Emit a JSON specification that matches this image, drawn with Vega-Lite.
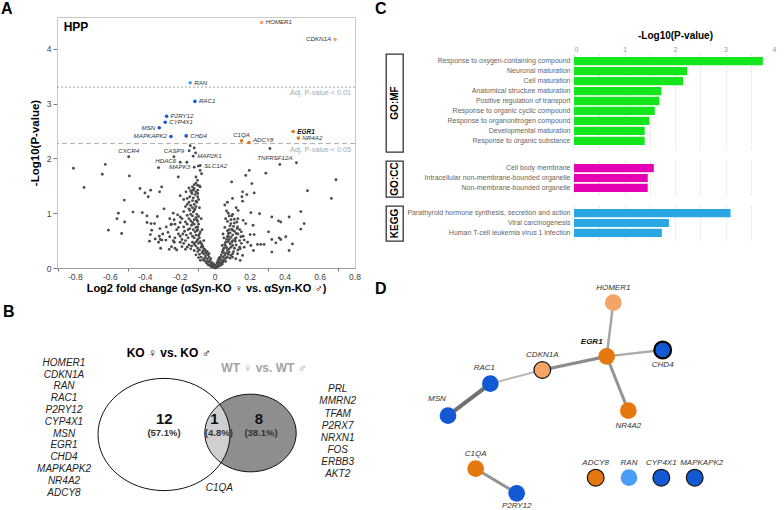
{
"$schema": "https://vega.github.io/schema/vega-lite/v6.json",
"padding": {"left": 0, "top": 0, "right": 0, "bottom": 0},
"spacing": 13,
"columns": 2,
"config": {
  "font": "Liberation Sans",
  "view": {"stroke": null},
  "locale": {"number": {"decimal": ".", "thousands": ",", "grouping": [3], "currency": ["$", ""], "minus": "-"}},
  "title": {"fontSize": 16, "fontWeight": "bold", "anchor": "start", "frame": "group", "baseline": "alphabetic", "color": "#000"}
},
"datasets": {
  "volcano": [
    {"fc":0.265,"lp":4.48,"gene":"HOMER1","cls":"up_p01"},
    {"fc":0.686,"lp":4.17,"gene":"CDKN1A","cls":"up_p01"},
    {"fc":-0.143,"lp":3.38,"gene":"RAN","cls":"down_p01"},
    {"fc":-0.116,"lp":3.04,"gene":"RAC1","cls":"down_p05"},
    {"fc":-0.278,"lp":2.77,"gene":"P2RY12","cls":"down_p05"},
    {"fc":-0.286,"lp":2.66,"gene":"CYP4X1","cls":"down_p05"},
    {"fc":-0.32,"lp":2.56,"gene":"MSN","cls":"down_p05"},
    {"fc":-0.253,"lp":2.40,"gene":"MAPKAPK2","cls":"down_p05"},
    {"fc":-0.166,"lp":2.41,"gene":"CHD4","cls":"down_p05"},
    {"fc":0.151,"lp":2.32,"gene":"C1QA","cls":"up_p05"},
    {"fc":0.193,"lp":2.29,"gene":"ADCY8","cls":"up_p05"},
    {"fc":0.446,"lp":2.49,"gene":"EGR1","cls":"up_p05"},
    {"fc":0.476,"lp":2.37,"gene":"NR4A2","cls":"up_p05"},
    {"fc":-0.495,"lp":2.03,"gene":"CXCR4","cls":"ns"},
    {"fc":-0.236,"lp":2.03,"gene":"CASP9","cls":"ns"},
    {"fc":-0.2,"lp":1.93,"gene":"HDAC6","cls":"ns"},
    {"fc":-0.126,"lp":2.04,"gene":"MAP2K1","cls":"ns"},
    {"fc":-0.12,"lp":1.84,"gene":"MAPK3","cls":"ns"},
    {"fc":-0.086,"lp":1.87,"gene":"SLC1A2","cls":"ns"},
    {"fc":0.313,"lp":2.18,"gene":"TNFRSF12A","cls":"ns"},
    {"fc":-0.811,"lp":1.82},{"fc":-0.629,"lp":1.89},{"fc":-0.646,"lp":1.71},{"fc":-0.75,"lp":1.47},
    {"fc":-0.491,"lp":1.68},{"fc":-0.324,"lp":1.83},{"fc":-0.52,"lp":1.24},{"fc":-0.554,"lp":1.0},
    {"fc":-0.562,"lp":0.9},{"fc":-0.518,"lp":0.84},{"fc":-0.611,"lp":0.69},{"fc":-0.535,"lp":0.63},
    {"fc":-0.47,"lp":1.02},{"fc":-0.43,"lp":1.45},{"fc":-0.402,"lp":1.37},{"fc":-0.369,"lp":1.42},
    {"fc":-0.383,"lp":1.3},{"fc":-0.318,"lp":1.39},{"fc":-0.306,"lp":1.48},{"fc":-0.293,"lp":1.08},
    {"fc":-0.417,"lp":1.01},{"fc":-0.39,"lp":0.95},{"fc":-0.331,"lp":0.94},{"fc":-0.39,"lp":0.83},
    {"fc":-0.367,"lp":0.81},{"fc":-0.347,"lp":0.81},{"fc":-0.316,"lp":0.72},{"fc":-0.371,"lp":0.61},
    {"fc":-0.376,"lp":0.49},{"fc":-0.32,"lp":0.58},{"fc":-0.314,"lp":0.52},{"fc":-0.324,"lp":0.47},
    {"fc":-0.305,"lp":0.51},{"fc":-0.312,"lp":0.36},{"fc":-0.263,"lp":0.34},{"fc":-0.234,"lp":0.47},
    {"fc":-0.253,"lp":0.79},{"fc":-0.282,"lp":0.51},{"fc":-0.343,"lp":0.53},{"fc":-0.363,"lp":0.69},
    {"fc":-0.211,"lp":1.66},{"fc":-0.167,"lp":1.39},
    {"fc":-0.143,"lp":2.23},{"fc":-0.12,"lp":2.19},{"fc":-0.149,"lp":2.14},{"fc":-0.112,"lp":2.1},
    {"fc":-0.162,"lp":1.93},{"fc":-0.097,"lp":1.86},{"fc":-0.078,"lp":1.72},{"fc":-0.086,"lp":1.78},
    {"fc":-0.11,"lp":1.66},{"fc":-0.101,"lp":1.6},{"fc":-0.12,"lp":1.52},{"fc":-0.101,"lp":1.51},
    {"fc":-0.086,"lp":1.48},{"fc":-0.133,"lp":1.36},{"fc":-0.11,"lp":1.39},
    {"fc":0.37,"lp":1.89},{"fc":0.465,"lp":1.92},{"fc":0.195,"lp":1.78},{"fc":0.175,"lp":1.69},
    {"fc":0.29,"lp":1.73},{"fc":0.691,"lp":1.61},{"fc":0.094,"lp":1.57},{"fc":0.21,"lp":1.54},
    {"fc":0.528,"lp":1.41},{"fc":0.157,"lp":1.39},{"fc":0.223,"lp":1.37},{"fc":0.181,"lp":1.34},
    {"fc":0.665,"lp":1.27},{"fc":0.099,"lp":1.27},{"fc":0.153,"lp":1.3},{"fc":0.157,"lp":1.22},
    {"fc":0.49,"lp":1.03},{"fc":0.131,"lp":1.05},{"fc":0.204,"lp":1.01},{"fc":0.254,"lp":0.99},
    {"fc":0.324,"lp":0.93},{"fc":0.362,"lp":0.86},{"fc":0.375,"lp":0.84},{"fc":0.509,"lp":0.81},
    {"fc":0.423,"lp":0.93},{"fc":0.49,"lp":0.71},{"fc":0.109,"lp":0.89},{"fc":0.124,"lp":0.84},
    {"fc":0.16,"lp":0.87},{"fc":0.175,"lp":0.81},{"fc":0.217,"lp":0.78},{"fc":0.128,"lp":0.75},
    {"fc":0.099,"lp":0.69},{"fc":0.2,"lp":0.61},{"fc":0.223,"lp":0.61},{"fc":0.305,"lp":0.66},
    {"fc":0.366,"lp":0.55},{"fc":0.375,"lp":0.52},{"fc":0.404,"lp":0.57},{"fc":0.442,"lp":0.44},
    {"fc":0.423,"lp":0.32},{"fc":0.324,"lp":0.52},{"fc":0.347,"lp":0.46},{"fc":0.324,"lp":0.29},
    {"fc":0.147,"lp":0.57},{"fc":0.113,"lp":0.53},{"fc":0.166,"lp":0.51},{"fc":0.185,"lp":0.47},
    {"fc":0.242,"lp":0.43},{"fc":0.261,"lp":0.43},{"fc":0.28,"lp":0.43},{"fc":0.204,"lp":0.41},
    {"fc":0.166,"lp":0.38},{"fc":0.143,"lp":0.35},{"fc":0.219,"lp":0.32},{"fc":0.157,"lp":0.23},
    {"fc":0.128,"lp":0.26},{"fc":0.099,"lp":0.2},{"fc":0.118,"lp":0.17},{"fc":0.143,"lp":0.14},
    {"fc":-0.05,"lp":0.09},{"fc":-0.04,"lp":0.06},{"fc":-0.03,"lp":0.04},{"fc":-0.02,"lp":0.02},
    {"fc":-0.01,"lp":0.01},{"fc":0.0,"lp":0.0},{"fc":0.01,"lp":0.01},{"fc":0.02,"lp":0.03},
    {"fc":0.03,"lp":0.05},{"fc":0.04,"lp":0.07},{"fc":-0.015,"lp":0.05},{"fc":0.015,"lp":0.06},
    {"fc":-0.035,"lp":0.11},{"fc":0.035,"lp":0.1},{"fc":0.005,"lp":0.03},{"fc":-0.005,"lp":0.04},
    {"fc":0.025,"lp":0.09},{"fc":-0.025,"lp":0.07},{"fc":0.045,"lp":0.11},{"fc":-0.045,"lp":0.12},
    {"fc":-0.01,"lp":0.08},{"fc":0.01,"lp":0.09},{"fc":0.0,"lp":0.05},{"fc":-0.02,"lp":0.1},{"fc":0.02,"lp":0.12},
    {"fc":-0.07,"lp":0.15},{"fc":-0.06,"lp":0.18},{"fc":-0.055,"lp":0.22},{"fc":-0.065,"lp":0.26},
    {"fc":-0.08,"lp":0.2},{"fc":-0.075,"lp":0.28},{"fc":-0.045,"lp":0.17},{"fc":-0.035,"lp":0.2},
    {"fc":-0.05,"lp":0.27},{"fc":-0.09,"lp":0.25},{"fc":0.05,"lp":0.15},{"fc":0.06,"lp":0.18},
    {"fc":0.055,"lp":0.23},{"fc":0.065,"lp":0.27},{"fc":0.07,"lp":0.2},{"fc":0.075,"lp":0.25},
    {"fc":0.045,"lp":0.2},{"fc":0.04,"lp":0.13},{"fc":0.08,"lp":0.29},{"fc":-0.1,"lp":0.3},
    {"fc":-0.085,"lp":0.14},{"fc":0.085,"lp":0.18},{"fc":0.09,"lp":0.23},{"fc":-0.03,"lp":0.14},
    {"fc":0.03,"lp":0.16},{"fc":-0.06,"lp":0.13},{"fc":0.06,"lp":0.12},{"fc":-0.04,"lp":0.24},
    {"fc":0.05,"lp":0.28},{"fc":-0.095,"lp":0.19},{"fc":-0.11,"lp":0.24},{"fc":0.1,"lp":0.26},
    {"fc":-0.025,"lp":0.17},{"fc":0.025,"lp":0.19},
    {"fc":-0.09,"lp":0.33},{"fc":-0.1,"lp":0.36},{"fc":-0.08,"lp":0.38},{"fc":-0.11,"lp":0.4},
    {"fc":-0.12,"lp":0.43},{"fc":-0.095,"lp":0.45},{"fc":-0.13,"lp":0.47},{"fc":-0.105,"lp":0.49},
    {"fc":-0.075,"lp":0.42},{"fc":-0.14,"lp":0.35},{"fc":-0.15,"lp":0.42},{"fc":-0.16,"lp":0.38},
    {"fc":-0.085,"lp":0.48},{"fc":-0.18,"lp":0.45},{"fc":-0.2,"lp":0.47},{"fc":-0.22,"lp":0.33},
    {"fc":-0.23,"lp":0.36},{"fc":-0.25,"lp":0.39},{"fc":-0.065,"lp":0.35},{"fc":-0.07,"lp":0.31},
    {"fc":-0.12,"lp":0.32},{"fc":-0.135,"lp":0.4},{"fc":-0.17,"lp":0.34},{"fc":-0.19,"lp":0.39},{"fc":-0.115,"lp":0.46},
    {"fc":0.07,"lp":0.32},{"fc":0.08,"lp":0.35},{"fc":0.09,"lp":0.38},{"fc":0.1,"lp":0.41},
    {"fc":0.085,"lp":0.44},{"fc":0.11,"lp":0.36},{"fc":0.12,"lp":0.42},{"fc":0.095,"lp":0.47},
    {"fc":0.06,"lp":0.4},{"fc":0.13,"lp":0.33},{"fc":0.075,"lp":0.48},{"fc":0.14,"lp":0.38},
    {"fc":0.15,"lp":0.45},{"fc":0.105,"lp":0.3},{"fc":0.065,"lp":0.37},{"fc":0.115,"lp":0.49},
    {"fc":-0.1,"lp":0.52},{"fc":-0.12,"lp":0.55},{"fc":-0.11,"lp":0.6},{"fc":-0.13,"lp":0.58},
    {"fc":-0.14,"lp":0.63},{"fc":-0.115,"lp":0.66},{"fc":-0.125,"lp":0.7},{"fc":-0.145,"lp":0.72},
    {"fc":-0.1,"lp":0.75},{"fc":-0.135,"lp":0.78},{"fc":-0.155,"lp":0.55},{"fc":-0.165,"lp":0.6},
    {"fc":-0.175,"lp":0.67},{"fc":-0.09,"lp":0.62},{"fc":-0.105,"lp":0.68},{"fc":-0.19,"lp":0.52},
    {"fc":-0.2,"lp":0.58},{"fc":-0.21,"lp":0.62},{"fc":-0.23,"lp":0.55},{"fc":-0.24,"lp":0.5},
    {"fc":-0.26,"lp":0.57},{"fc":-0.27,"lp":0.65},{"fc":-0.22,"lp":0.7},{"fc":-0.18,"lp":0.75},
    {"fc":-0.16,"lp":0.8},{"fc":-0.095,"lp":0.8},
    {"fc":0.08,"lp":0.52},{"fc":0.09,"lp":0.56},{"fc":0.1,"lp":0.6},{"fc":0.085,"lp":0.64},
    {"fc":0.11,"lp":0.67},{"fc":0.095,"lp":0.71},{"fc":0.12,"lp":0.55},{"fc":0.13,"lp":0.62},
    {"fc":0.075,"lp":0.58},{"fc":0.14,"lp":0.5},{"fc":0.105,"lp":0.76},{"fc":0.125,"lp":0.72},
    {"fc":0.07,"lp":0.68},{"fc":0.16,"lp":0.58},{"fc":0.15,"lp":0.66},
    {"fc":-0.1,"lp":0.85},{"fc":-0.12,"lp":0.88},{"fc":-0.11,"lp":0.92},{"fc":-0.14,"lp":0.86},
    {"fc":-0.13,"lp":0.95},{"fc":-0.15,"lp":0.9},{"fc":-0.105,"lp":0.98},{"fc":-0.125,"lp":1.02},
    {"fc":-0.16,"lp":0.96},{"fc":-0.145,"lp":1.05},{"fc":-0.115,"lp":1.08},{"fc":-0.17,"lp":0.84},
    {"fc":-0.19,"lp":0.9},{"fc":-0.2,"lp":0.83},{"fc":-0.215,"lp":0.97},{"fc":-0.235,"lp":0.88},
    {"fc":-0.095,"lp":0.94},{"fc":-0.18,"lp":1.03},{"fc":-0.25,"lp":0.8},
    {"fc":0.06,"lp":0.9},{"fc":0.07,"lp":0.85},{"fc":0.08,"lp":0.95},{"fc":0.09,"lp":0.88},
    {"fc":0.075,"lp":1.0},{"fc":0.1,"lp":0.98},{"fc":0.11,"lp":0.82},{"fc":0.065,"lp":1.04},{"fc":0.13,"lp":0.9},
    {"fc":-0.11,"lp":1.12},{"fc":-0.12,"lp":1.16},{"fc":-0.105,"lp":1.2},{"fc":-0.13,"lp":1.23},
    {"fc":-0.14,"lp":1.14},{"fc":-0.125,"lp":1.28},{"fc":-0.1,"lp":1.3},{"fc":-0.15,"lp":1.2},
    {"fc":-0.16,"lp":1.27},{"fc":-0.115,"lp":1.34},{"fc":-0.135,"lp":1.38},{"fc":-0.18,"lp":1.25},
    {"fc":-0.095,"lp":1.25},{"fc":-0.2,"lp":1.32},{"fc":-0.17,"lp":1.12},
    {"fc":0.055,"lp":1.15},{"fc":0.07,"lp":1.2},
    {"fc":-0.1,"lp":1.42},{"fc":-0.12,"lp":1.45},{"fc":-0.09,"lp":1.5},{"fc":-0.11,"lp":1.55},
    {"fc":-0.13,"lp":1.48},{"fc":-0.14,"lp":1.41},
    {"fc":-0.055,"lp":0.31},{"fc":-0.06,"lp":0.34},{"fc":-0.07,"lp":0.39},{"fc":-0.08,"lp":0.45},
    {"fc":-0.09,"lp":0.55},{"fc":-0.095,"lp":0.59},{"fc":-0.085,"lp":0.66},{"fc":-0.1,"lp":0.7},
    {"fc":-0.11,"lp":0.74},{"fc":-0.12,"lp":0.8},{"fc":-0.13,"lp":0.83},{"fc":-0.105,"lp":0.88},
    {"fc":-0.14,"lp":0.98},{"fc":-0.12,"lp":1.05},{"fc":-0.13,"lp":1.1},{"fc":-0.15,"lp":1.08},
    {"fc":-0.16,"lp":1.16},{"fc":-0.145,"lp":1.3},{"fc":-0.11,"lp":1.22},{"fc":-0.125,"lp":1.42},
    {"fc":-0.15,"lp":1.46},{"fc":-0.1,"lp":1.36},{"fc":-0.09,"lp":1.1},{"fc":-0.08,"lp":0.9},
    {"fc":-0.075,"lp":0.7},{"fc":-0.065,"lp":0.5},{"fc":-0.045,"lp":0.3},{"fc":-0.035,"lp":0.26},
    {"fc":-0.155,"lp":0.7},{"fc":-0.17,"lp":0.5},{"fc":-0.185,"lp":0.62},{"fc":-0.21,"lp":0.74},
    {"fc":-0.23,"lp":0.8},{"fc":-0.2,"lp":0.93},{"fc":-0.24,"lp":1.0},{"fc":-0.26,"lp":0.9},
    {"fc":-0.28,"lp":0.75},{"fc":-0.3,"lp":0.62},
    {"fc":0.03,"lp":0.2},{"fc":0.035,"lp":0.24},{"fc":0.04,"lp":0.29},{"fc":0.045,"lp":0.33},
    {"fc":0.05,"lp":0.36},{"fc":0.055,"lp":0.43},{"fc":0.06,"lp":0.47},{"fc":0.065,"lp":0.52},
    {"fc":0.07,"lp":0.57},{"fc":0.075,"lp":0.63},{"fc":0.08,"lp":0.7},{"fc":0.085,"lp":0.77},
    {"fc":0.09,"lp":0.81},{"fc":0.05,"lp":0.55},{"fc":0.045,"lp":0.62},{"fc":0.055,"lp":0.74},
    {"fc":0.04,"lp":0.41},{"fc":0.02,"lp":0.17},{"fc":0.015,"lp":0.13},{"fc":0.1,"lp":0.5},
    {"fc":0.12,"lp":0.63},{"fc":0.14,"lp":0.7},{"fc":0.095,"lp":0.95},{"fc":0.12,"lp":1.1}
  ],
  "xticks": [
    {"fc":-0.8},{"fc":-0.6},{"fc":-0.4},{"fc":-0.2},{"fc":0},{"fc":0.2},{"fc":0.4},{"fc":0.6},{"fc":0.8}
  ],
  "thresholds": [
    {"lp":3.3,"note":"Adj. P-value < 0.01"},
    {"lp":2.27,"note":"Adj. P-value < 0.05"}
  ],
  "venn_sets": [
    {"set":"KO","vx":107,"vy":113.5,"n":13},
    {"set":"WT","vx":193.5,"vy":112,"n":9}
  ],
  "venn_text": [
    {"t":"KO ♀ vs. KO ♂","vx":111.7,"vy":31.7,"kind":"ko_head"},
    {"t":"WT ♀ vs. WT ♂","vx":207,"vy":47,"kind":"wt_head"},
    {"t":"12","vx":107.3,"vy":98.3,"kind":"count"},
    {"t":"(57.1%)","vx":107,"vy":111.7,"kind":"pct"},
    {"t":"1","vx":157.3,"vy":98.3,"kind":"count"},
    {"t":"(4.8%)","vx":161.8,"vy":111.7,"kind":"pct"},
    {"t":"8","vx":202,"vy":98.3,"kind":"count"},
    {"t":"(38.1%)","vx":204,"vy":111.7,"kind":"pct"},
    {"t":"C1QA","vx":162.3,"vy":166.7,"kind":"gene"},
    {"t":"HOMER1","vx":7,"vy":41.7,"kind":"gene"},
    {"t":"CDKN1A","vx":7,"vy":53.5,"kind":"gene"},
    {"t":"RAN","vx":7,"vy":65.3,"kind":"gene"},
    {"t":"RAC1","vx":7,"vy":77.2,"kind":"gene"},
    {"t":"P2RY12","vx":7,"vy":89.0,"kind":"gene"},
    {"t":"CYP4X1","vx":7,"vy":100.8,"kind":"gene"},
    {"t":"MSN","vx":7,"vy":112.6,"kind":"gene"},
    {"t":"EGR1","vx":7,"vy":124.4,"kind":"gene"},
    {"t":"CHD4","vx":7,"vy":136.3,"kind":"gene"},
    {"t":"MAPKAPK2","vx":7,"vy":148.1,"kind":"gene"},
    {"t":"NR4A2","vx":7,"vy":159.9,"kind":"gene"},
    {"t":"ADCY8","vx":7,"vy":171.7,"kind":"gene"},
    {"t":"PRL","vx":280.7,"vy":68.3,"kind":"gene"},
    {"t":"MMRN2","vx":280.7,"vy":80.4,"kind":"gene"},
    {"t":"TFAM","vx":280.7,"vy":92.6,"kind":"gene"},
    {"t":"P2RX7","vx":280.7,"vy":104.7,"kind":"gene"},
    {"t":"NRXN1","vx":280.7,"vy":116.9,"kind":"gene"},
    {"t":"FOS","vx":280.7,"vy":129.0,"kind":"gene"},
    {"t":"ERBB3","vx":280.7,"vy":141.1,"kind":"gene"},
    {"t":"AKT2","vx":280.7,"vy":153.3,"kind":"gene"}
  ],
  "enrich": [
    {"source":"GO:MF","term":"Response to oxygen-containing compound","p":3.74},
    {"source":"GO:MF","term":"Neuronal maturation","p":2.24},
    {"source":"GO:MF","term":"Cell maturation","p":2.16},
    {"source":"GO:MF","term":"Anatomical structure maturation","p":1.73},
    {"source":"GO:MF","term":"Positive regulation of transport","p":1.69},
    {"source":"GO:MF","term":"Response to organic cyclic compound","p":1.60},
    {"source":"GO:MF","term":"Response to organonitrogen compound","p":1.49},
    {"source":"GO:MF","term":"Developmental maturation","p":1.40},
    {"source":"GO:MF","term":"Response to organic substance","p":1.40},
    {"source":"GO:CC","term":"Cell body membrane","p":1.58},
    {"source":"GO:CC","term":"Intracellular non-membrane-bounded organelle","p":1.46},
    {"source":"GO:CC","term":"Non-membrane-bounded organelle","p":1.46},
    {"source":"KEGG","term":"Parathyroid hormone synthesis, secretion and action","p":3.10},
    {"source":"KEGG","term":"Viral carcinogenesis","p":1.88},
    {"source":"KEGG","term":"Human T-cell leukemia virus 1 infection","p":1.74}
  ],
  "nodes": [
    {"gene":"HOMER1","nx":227.3,"ny":53.7,"cls":"up_p01","outline":"no"},
    {"gene":"EGR1","nx":220.7,"ny":107.3,"cls":"up_p05","outline":"no"},
    {"gene":"CHD4","nx":276.7,"ny":101,"cls":"down_p05","outline":"strong"},
    {"gene":"CDKN1A","nx":156.3,"ny":121,"cls":"up_p01","outline":"yes"},
    {"gene":"RAC1","nx":104.3,"ny":134.7,"cls":"down_p05","outline":"no"},
    {"gene":"MSN","nx":62,"ny":166.7,"cls":"down_p05","outline":"no"},
    {"gene":"NR4A2","nx":242.3,"ny":161.7,"cls":"up_p05","outline":"no"},
    {"gene":"C1QA","nx":89.7,"ny":219.7,"cls":"up_p05","outline":"no"},
    {"gene":"P2RY12","nx":130.7,"ny":244.3,"cls":"down_p05","outline":"no"},
    {"gene":"ADCY8","nx":209.7,"ny":228.7,"cls":"up_p05","outline":"yes"},
    {"gene":"RAN","nx":243,"ny":228.7,"cls":"down_p01","outline":"no"},
    {"gene":"CYP4X1","nx":275.3,"ny":228.7,"cls":"down_p05","outline":"yes"},
    {"gene":"MAPKAPK2","nx":308.7,"ny":228.7,"cls":"down_p05","outline":"yes"}
  ],
  "edges": [
    {"source":"RAC1","target":"MSN","score":0.98,"sx":104.3,"sy":134.7,"tx":62,"ty":166.7},
    {"source":"RAC1","target":"CDKN1A","score":0.5,"sx":104.3,"sy":134.7,"tx":156.3,"ty":121},
    {"source":"CDKN1A","target":"EGR1","score":0.8,"sx":156.3,"sy":121,"tx":220.7,"ty":107.3},
    {"source":"EGR1","target":"HOMER1","score":0.62,"sx":220.7,"sy":107.3,"tx":227.3,"ty":53.7},
    {"source":"EGR1","target":"CHD4","score":0.58,"sx":220.7,"sy":107.3,"tx":276.7,"ty":101},
    {"source":"EGR1","target":"NR4A2","score":0.74,"sx":220.7,"sy":107.3,"tx":242.3,"ty":161.7},
    {"source":"C1QA","target":"P2RY12","score":0.74,"sx":89.7,"sy":219.7,"tx":130.7,"ty":244.3}
  ]
},
"concat": [
  {
    "spacing": 10,
    "vconcat": [
      {
        "title": {"text": "A", "dx": -56, "offset": 0},
        "width": 298, "height": 251,
        "view": {"stroke": "#c8c8c8", "strokeWidth": 1},
        "layer": [
          {
            "data": {"name": "volcano"},
            "transform": [{"filter": "!datum.cls || datum.cls == 'ns'"}],
            "mark": {"type": "circle", "size": 8, "color": "#4a4a4a", "opacity": 1},
            "encoding": {
              "x": {"field": "fc", "type": "quantitative", "scale": {"domain": [-0.905, 0.8], "nice": false, "zero": false},
                "axis": {"title": "Log2 fold change (αSyn-KO ♀ vs. αSyn-KO ♂)", "titleFontSize": 11, "titleFontWeight": "bold", "titleColor": "#000", "titlePadding": 11,
                  "values": [-0.9,-0.8,-0.7,-0.6,-0.5,-0.4,-0.3,-0.2,-0.1,0,0.1,0.2,0.3,0.4,0.5,0.6,0.7,0.8],
                  "labels": false, "grid": false, "tickSize": 3, "tickColor": "#777", "domainColor": "#999"}},
              "y": {"field": "lp", "type": "quantitative", "scale": {"domain": [0, 4.58], "nice": false, "zero": false},
                "axis": {"title": "-Log10(P-value)", "titleFontSize": 11.5, "titleFontWeight": "bold", "titleColor": "#000", "titlePadding": 6,
                  "values": [0,0.5,1,1.5,2,2.5,3,3.5,4,4.5],
                  "labelExpr": "datum.value % 1 == 0 ? format(datum.value, 'd') : ''",
                  "labelOverlap": false, "grid": false, "tickSize": 4, "tickColor": "#777", "domainColor": "#c8c8c8", "labelColor": "#444", "labelFontSize": 8.5, "labelPadding": 2}}
            }
          },
          {
            "data": {"name": "xticks"},
            "mark": {"type": "text", "baseline": "top", "align": "center", "dy": 5, "fontSize": 8.5, "color": "#444"},
            "encoding": {
              "x": {"field": "fc", "type": "quantitative"},
              "y": {"datum": 0, "type": "quantitative"},
              "text": {"field": "fc", "type": "quantitative", "format": ".1~f"}
            }
          },
          {
            "data": {"name": "thresholds"},
            "mark": {"type": "rule", "color": "#aaaaaa", "strokeWidth": 1},
            "encoding": {
              "y": {"field": "lp", "type": "quantitative"},
              "strokeDash": {"field": "note", "type": "nominal", "scale": {"domain": ["Adj. P-value < 0.01", "Adj. P-value < 0.05"], "range": [[2, 2], [5, 3]]}, "legend": null}
            }
          },
          {
            "data": {"name": "thresholds"},
            "mark": {"type": "text", "align": "right", "baseline": "top", "dx": -4, "dy": 2, "fontSize": 7.2, "color": "#a8a8a8"},
            "encoding": {
              "x": {"value": "width"},
              "y": {"field": "lp", "type": "quantitative"},
              "text": {"field": "note"}
            }
          },
          {
            "data": {"name": "volcano"},
            "transform": [{"filter": "datum.cls && datum.cls != 'ns'"}],
            "mark": {"type": "circle", "size": 13, "opacity": 1},
            "encoding": {
              "x": {"field": "fc", "type": "quantitative"},
              "y": {"field": "lp", "type": "quantitative"},
              "color": {"field": "cls", "type": "nominal", "scale": {"domain": ["up_p01", "up_p05", "down_p01", "down_p05"], "range": ["#f5a468", "#e4780e", "#4a9ef5", "#1459d4"]}, "legend": null}
            }
          },
          {
            "data": {"name": "volcano"},
            "transform": [{"filter": {"field": "gene", "oneOf": ["HOMER1", "RAN", "RAC1", "P2RY12", "CYP4X1", "CHD4", "NR4A2", "MAP2K1", "SLC1A2"]}}],
            "mark": {"type": "text", "align": "left", "baseline": "middle", "dx": 4, "fontSize": 6.2, "fontStyle": "italic", "color": "#333"},
            "encoding": {"x": {"field": "fc", "type": "quantitative"}, "y": {"field": "lp", "type": "quantitative"}, "text": {"field": "gene"}}
          },
          {
            "data": {"name": "volcano"},
            "transform": [{"filter": {"field": "gene", "oneOf": ["ADCY8"]}}],
            "mark": {"type": "text", "align": "left", "baseline": "middle", "dx": 4, "dy": -3, "fontSize": 6.2, "fontStyle": "italic", "color": "#333"},
            "encoding": {"x": {"field": "fc", "type": "quantitative"}, "y": {"field": "lp", "type": "quantitative"}, "text": {"field": "gene"}}
          },
          {
            "data": {"name": "volcano"},
            "transform": [{"filter": {"field": "gene", "oneOf": ["EGR1"]}}],
            "mark": {"type": "text", "align": "left", "baseline": "middle", "dx": 4, "fontSize": 6.5, "fontStyle": "italic", "fontWeight": "bold", "color": "#111"},
            "encoding": {"x": {"field": "fc", "type": "quantitative"}, "y": {"field": "lp", "type": "quantitative"}, "text": {"field": "gene"}}
          },
          {
            "data": {"name": "volcano"},
            "transform": [{"filter": {"field": "gene", "oneOf": ["CDKN1A", "MSN", "MAPKAPK2", "MAPK3"]}}],
            "mark": {"type": "text", "align": "right", "baseline": "middle", "dx": -4, "fontSize": 6.2, "fontStyle": "italic", "color": "#333"},
            "encoding": {"x": {"field": "fc", "type": "quantitative"}, "y": {"field": "lp", "type": "quantitative"}, "text": {"field": "gene"}}
          },
          {
            "data": {"name": "volcano"},
            "transform": [{"filter": {"field": "gene", "oneOf": ["HDAC6"]}}],
            "mark": {"type": "text", "align": "right", "baseline": "middle", "dx": -4, "dy": -1.5, "fontSize": 6.2, "fontStyle": "italic", "color": "#333"},
            "encoding": {"x": {"field": "fc", "type": "quantitative"}, "y": {"field": "lp", "type": "quantitative"}, "text": {"field": "gene"}}
          },
          {
            "data": {"name": "volcano"},
            "transform": [{"filter": {"field": "gene", "oneOf": ["CXCR4", "CASP9", "C1QA"]}}],
            "mark": {"type": "text", "align": "center", "baseline": "middle", "dy": -6, "fontSize": 6.2, "fontStyle": "italic", "color": "#333"},
            "encoding": {"x": {"field": "fc", "type": "quantitative"}, "y": {"field": "lp", "type": "quantitative"}, "text": {"field": "gene"}}
          },
          {
            "data": {"name": "volcano"},
            "transform": [{"filter": {"field": "gene", "oneOf": ["TNFRSF12A"]}}],
            "mark": {"type": "text", "align": "center", "baseline": "middle", "dx": 5, "dy": 9, "fontSize": 6.2, "fontStyle": "italic", "color": "#333"},
            "encoding": {"x": {"field": "fc", "type": "quantitative"}, "y": {"field": "lp", "type": "quantitative"}, "text": {"field": "gene"}}
          },
          {
            "data": {"name": "thresholds"},
            "transform": [{"filter": "datum.lp > 3"}],
            "mark": {"type": "text", "align": "left", "baseline": "middle", "fontSize": 12, "fontWeight": "bold", "color": "#000", "text": "HPP"},
            "encoding": {"x": {"datum": -0.867, "type": "quantitative"}, "y": {"datum": 4.4, "type": "quantitative"}}
          }
        ]
      },
      {
        "title": {"text": "B", "dx": -54, "offset": 1},
        "width": 297, "height": 180,
        "layer": [
          {
            "data": {"name": "venn_sets"},
            "transform": [{"filter": "datum.set == 'WT'"}],
            "mark": {"type": "point", "shape": "M 1 0 C 1 0.4695 0.5523 0.85 0 0.85 C -0.5523 0.85 -1 0.4695 -1 0 C -1 -0.4695 -0.5523 -0.85 0 -0.85 C 0.5523 -0.85 1 -0.4695 1 0 Z", "filled": true, "color": "#8e8e8e", "opacity": 1, "strokeWidth": 0},
            "encoding": {
              "x": {"field": "vx", "type": "quantitative", "scale": {"domain": [0, 297], "nice": false, "zero": false}, "axis": null},
              "y": {"field": "vy", "type": "quantitative", "scale": {"domain": [0, 180], "nice": false, "zero": false, "reverse": true}, "axis": null},
              "size": {"field": "n", "type": "quantitative", "scale": {"type": "pow", "exponent": 2, "domain": [0, 13], "range": [0, 17424]}, "legend": null}
            }
          },
          {
            "data": {"name": "venn_sets"},
            "transform": [{"filter": "datum.set == 'KO'"}],
            "mark": {"type": "point", "shape": "M 1 0 C 1 0.4695 0.5523 0.85 0 0.85 C -0.5523 0.85 -1 0.4695 -1 0 C -1 -0.4695 -0.5523 -0.85 0 -0.85 C 0.5523 -0.85 1 -0.4695 1 0 Z", "filled": true, "color": "#ffffff", "opacity": 0.58, "strokeWidth": 0},
            "encoding": {
              "x": {"field": "vx", "type": "quantitative"},
              "y": {"field": "vy", "type": "quantitative"},
              "size": {"field": "n", "type": "quantitative"}
            }
          },
          {
            "data": {"name": "venn_sets"},
            "mark": {"type": "point", "shape": "M 1 0 C 1 0.4695 0.5523 0.85 0 0.85 C -0.5523 0.85 -1 0.4695 -1 0 C -1 -0.4695 -0.5523 -0.85 0 -0.85 C 0.5523 -0.85 1 -0.4695 1 0 Z", "filled": false, "color": "#111111", "opacity": 1, "strokeWidth": 1},
            "encoding": {
              "x": {"field": "vx", "type": "quantitative"},
              "y": {"field": "vy", "type": "quantitative"},
              "size": {"field": "n", "type": "quantitative"}
            }
          },
          {
            "data": {"name": "venn_text"},
            "transform": [{"filter": "datum.kind == 'ko_head'"}],
            "mark": {"type": "text", "baseline": "middle", "fontSize": 12, "fontWeight": "bold", "color": "#000"},
            "encoding": {"x": {"field": "vx", "type": "quantitative"}, "y": {"field": "vy", "type": "quantitative"}, "text": {"field": "t"}}
          },
          {
            "data": {"name": "venn_text"},
            "transform": [{"filter": "datum.kind == 'wt_head'"}],
            "mark": {"type": "text", "baseline": "middle", "fontSize": 12, "fontWeight": "bold", "color": "#a3a3a3"},
            "encoding": {"x": {"field": "vx", "type": "quantitative"}, "y": {"field": "vy", "type": "quantitative"}, "text": {"field": "t"}}
          },
          {
            "data": {"name": "venn_text"},
            "transform": [{"filter": "datum.kind == 'count'"}],
            "mark": {"type": "text", "baseline": "middle", "fontSize": 15, "fontWeight": "bold", "color": "#111"},
            "encoding": {"x": {"field": "vx", "type": "quantitative"}, "y": {"field": "vy", "type": "quantitative"}, "text": {"field": "t"}}
          },
          {
            "data": {"name": "venn_text"},
            "transform": [{"filter": "datum.kind == 'pct'"}],
            "mark": {"type": "text", "baseline": "middle", "fontSize": 9.5, "fontWeight": "bold", "color": "#333"},
            "encoding": {"x": {"field": "vx", "type": "quantitative"}, "y": {"field": "vy", "type": "quantitative"}, "text": {"field": "t"}}
          },
          {
            "data": {"name": "venn_text"},
            "transform": [{"filter": "datum.kind == 'gene'"}],
            "mark": {"type": "text", "baseline": "middle", "fontSize": 10, "fontStyle": "italic", "color": "#222"},
            "encoding": {"x": {"field": "vx", "type": "quantitative"}, "y": {"field": "vy", "type": "quantitative"}, "text": {"field": "t"}}
          }
        ]
      }
    ]
  },
  {
    "spacing": 7,
    "vconcat": [
      {
        "title": {"text": "C", "dx": -11, "offset": 0},
        "width": 17, "height": 6,
        "data": {"name": "enrich"},
        "transform": [{"filter": "false"}],
        "mark": {"type": "point"}
      },
      {
        "bounds": "flush",
        "spacing": 171,
        "hconcat": [
          {
            "width": 17, "height": 98,
            "view": {"stroke": "#333", "strokeWidth": 1.3},
            "data": {"name": "enrich"},
            "transform": [{"filter": "datum.source == 'GO:MF'"}, {"aggregate": [{"op": "count", "as": "n"}], "groupby": ["source"]}],
            "mark": {"type": "text", "angle": 270, "fontSize": 10, "fontWeight": "bold", "color": "#000", "baseline": "middle", "align": "center"},
            "encoding": {"text": {"field": "source"}}
          },
          {
            "width": 202, "height": 94,
            "data": {"name": "enrich"},
            "transform": [{"filter": "datum.source == 'GO:MF'"}],
            "mark": {"type": "bar", "color": "#14e61c"},
            "encoding": {
              "y": {"field": "term", "type": "nominal", "sort": null, "scale": {"paddingInner": 0.17, "paddingOuter": 0.3},
                "axis": {"title": null, "ticks": false, "domain": false, "labelFontSize": 7, "labelColor": "#666", "labelPadding": 4, "labelLimit": 400}},
              "x": {"field": "p", "type": "quantitative", "scale": {"domain": [0, 4], "nice": false},
                "axis": {"orient": "top", "values": [0,0.5,1,1.5,2,2.5,3,3.5,4], "labelExpr": "datum.value % 1 == 0 ? format(datum.value, 'd') : ''",
                  "grid": true, "gridColor": "#dddddd", "gridDash": [2, 2], "ticks": false, "domain": false, "labelColor": "#999", "labelFontSize": 7, "labelPadding": 2, "labelOverlap": false,
                  "title": "-Log10(P-value)", "titleFontSize": 10, "titleFontWeight": "bold", "titleColor": "#000", "titlePadding": 5}}
            }
          }
        ]
      },
      {
        "bounds": "flush",
        "spacing": 171,
        "hconcat": [
          {
            "width": 17, "height": 36,
            "view": {"stroke": "#333", "strokeWidth": 1.3},
            "data": {"name": "enrich"},
            "transform": [{"filter": "datum.source == 'GO:CC'"}, {"aggregate": [{"op": "count", "as": "n"}], "groupby": ["source"]}],
            "mark": {"type": "text", "angle": 270, "fontSize": 10, "fontWeight": "bold", "color": "#000", "baseline": "middle", "align": "center"},
            "encoding": {"text": {"field": "source"}}
          },
          {
            "width": 202, "height": 34,
            "data": {"name": "enrich"},
            "transform": [{"filter": "datum.source == 'GO:CC'"}],
            "mark": {"type": "bar", "color": "#e600b5"},
            "encoding": {
              "y": {"field": "term", "type": "nominal", "sort": null, "scale": {"paddingInner": 0.17, "paddingOuter": 0.3},
                "axis": {"title": null, "ticks": false, "domain": false, "labelFontSize": 7, "labelColor": "#666", "labelPadding": 4, "labelLimit": 400}},
              "x": {"field": "p", "type": "quantitative", "scale": {"domain": [0, 4], "nice": false},
                "axis": {"orient": "top", "values": [0,0.5,1,1.5,2,2.5,3,3.5,4], "labels": false, "grid": true, "gridColor": "#dddddd", "gridDash": [2, 2], "ticks": false, "domain": false, "title": null}}
            }
          }
        ]
      },
      {
        "bounds": "flush",
        "spacing": 171,
        "hconcat": [
          {
            "width": 17, "height": 35,
            "view": {"stroke": "#333", "strokeWidth": 1.3},
            "data": {"name": "enrich"},
            "transform": [{"filter": "datum.source == 'KEGG'"}, {"aggregate": [{"op": "count", "as": "n"}], "groupby": ["source"]}],
            "mark": {"type": "text", "angle": 270, "fontSize": 10, "fontWeight": "bold", "color": "#000", "baseline": "middle", "align": "center"},
            "encoding": {"text": {"field": "source"}}
          },
          {
            "width": 202, "height": 34,
            "data": {"name": "enrich"},
            "transform": [{"filter": "datum.source == 'KEGG'"}],
            "mark": {"type": "bar", "color": "#2aa7e0"},
            "encoding": {
              "y": {"field": "term", "type": "nominal", "sort": null, "scale": {"paddingInner": 0.17, "paddingOuter": 0.3},
                "axis": {"title": null, "ticks": false, "domain": false, "labelFontSize": 7, "labelColor": "#666", "labelPadding": 4, "labelLimit": 400}},
              "x": {"field": "p", "type": "quantitative", "scale": {"domain": [0, 4], "nice": false},
                "axis": {"orient": "top", "values": [0,0.5,1,1.5,2,2.5,3,3.5,4], "labels": false, "grid": true, "gridColor": "#dddddd", "gridDash": [2, 2], "ticks": false, "domain": false, "title": null}}
            }
          }
        ]
      },
      {
        "title": {"text": "D", "dx": -11, "offset": 0, "dy": 48},
        "width": 380, "height": 250,
        "layer": [
          {
            "data": {"name": "edges"},
            "mark": {"type": "rule"},
            "encoding": {
              "x": {"field": "sx", "type": "quantitative", "scale": {"domain": [0, 380], "nice": false, "zero": false}, "axis": null},
              "y": {"field": "sy", "type": "quantitative", "scale": {"domain": [0, 250], "nice": false, "zero": false, "reverse": true}, "axis": null},
              "x2": {"field": "tx"},
              "y2": {"field": "ty"},
              "strokeWidth": {"field": "score", "type": "quantitative", "scale": {"domain": [0.4, 1], "range": [1.5, 4.2]}, "legend": null},
              "stroke": {"field": "score", "type": "quantitative", "scale": {"domain": [0.4, 1], "range": ["#c6c6c6", "#6f6f6f"]}, "legend": null}
            }
          },
          {
            "data": {"name": "nodes"},
            "mark": {"type": "circle", "size": 280, "opacity": 1},
            "encoding": {
              "x": {"field": "nx", "type": "quantitative"},
              "y": {"field": "ny", "type": "quantitative"},
              "color": {"field": "cls", "type": "nominal", "scale": {"domain": ["up_p01", "up_p05", "down_p01", "down_p05"], "range": ["#f8b68a", "#e3770f", "#4fa1f7", "#0d56d3"]}, "legend": null}
            }
          },
          {
            "data": {"name": "nodes"},
            "transform": [{"filter": "datum.outline == 'yes'"}],
            "mark": {"type": "circle", "size": 280, "filled": false, "color": "#111", "strokeWidth": 1.2, "opacity": 1},
            "encoding": {"x": {"field": "nx", "type": "quantitative"}, "y": {"field": "ny", "type": "quantitative"}}
          },
          {
            "data": {"name": "nodes"},
            "transform": [{"filter": "datum.outline == 'strong'"}],
            "mark": {"type": "circle", "size": 280, "filled": false, "color": "#000", "strokeWidth": 2.2, "opacity": 1},
            "encoding": {"x": {"field": "nx", "type": "quantitative"}, "y": {"field": "ny", "type": "quantitative"}}
          },
          {
            "data": {"name": "nodes"},
            "transform": [{"filter": {"field": "gene", "oneOf": ["HOMER1", "CDKN1A", "C1QA", "ADCY8", "RAN", "CYP4X1"]}}],
            "mark": {"type": "text", "baseline": "middle", "dy": -15, "fontSize": 8, "fontStyle": "italic", "color": "#333"},
            "encoding": {"x": {"field": "nx", "type": "quantitative"}, "y": {"field": "ny", "type": "quantitative"}, "text": {"field": "gene"}}
          },
          {
            "data": {"name": "nodes"},
            "transform": [{"filter": {"field": "gene", "oneOf": ["MAPKAPK2"]}}],
            "mark": {"type": "text", "baseline": "middle", "dx": 7, "dy": -15, "fontSize": 8, "fontStyle": "italic", "color": "#333"},
            "encoding": {"x": {"field": "nx", "type": "quantitative"}, "y": {"field": "ny", "type": "quantitative"}, "text": {"field": "gene"}}
          },
          {
            "data": {"name": "nodes"},
            "transform": [{"filter": {"field": "gene", "oneOf": ["RAC1"]}}],
            "mark": {"type": "text", "baseline": "middle", "dx": -6, "dy": -16, "fontSize": 8, "fontStyle": "italic", "color": "#333"},
            "encoding": {"x": {"field": "nx", "type": "quantitative"}, "y": {"field": "ny", "type": "quantitative"}, "text": {"field": "gene"}}
          },
          {
            "data": {"name": "nodes"},
            "transform": [{"filter": {"field": "gene", "oneOf": ["MSN"]}}],
            "mark": {"type": "text", "baseline": "middle", "dx": -11, "dy": -17, "fontSize": 8, "fontStyle": "italic", "color": "#333"},
            "encoding": {"x": {"field": "nx", "type": "quantitative"}, "y": {"field": "ny", "type": "quantitative"}, "text": {"field": "gene"}}
          },
          {
            "data": {"name": "nodes"},
            "transform": [{"filter": {"field": "gene", "oneOf": ["EGR1"]}}],
            "mark": {"type": "text", "baseline": "middle", "dx": -15, "dy": -14, "fontSize": 8, "fontStyle": "italic", "fontWeight": "bold", "color": "#111"},
            "encoding": {"x": {"field": "nx", "type": "quantitative"}, "y": {"field": "ny", "type": "quantitative"}, "text": {"field": "gene"}}
          },
          {
            "data": {"name": "nodes"},
            "transform": [{"filter": {"field": "gene", "oneOf": ["CHD4", "NR4A2"]}}],
            "mark": {"type": "text", "baseline": "middle", "dy": 15, "fontSize": 8, "fontStyle": "italic", "color": "#333"},
            "encoding": {"x": {"field": "nx", "type": "quantitative"}, "y": {"field": "ny", "type": "quantitative"}, "text": {"field": "gene"}}
          },
          {
            "data": {"name": "nodes"},
            "transform": [{"filter": {"field": "gene", "oneOf": ["P2RY12"]}}],
            "mark": {"type": "text", "baseline": "middle", "dy": 13, "fontSize": 8, "fontStyle": "italic", "color": "#333"},
            "encoding": {"x": {"field": "nx", "type": "quantitative"}, "y": {"field": "ny", "type": "quantitative"}, "text": {"field": "gene"}}
          }
        ]
      }
    ]
  }
]
}
